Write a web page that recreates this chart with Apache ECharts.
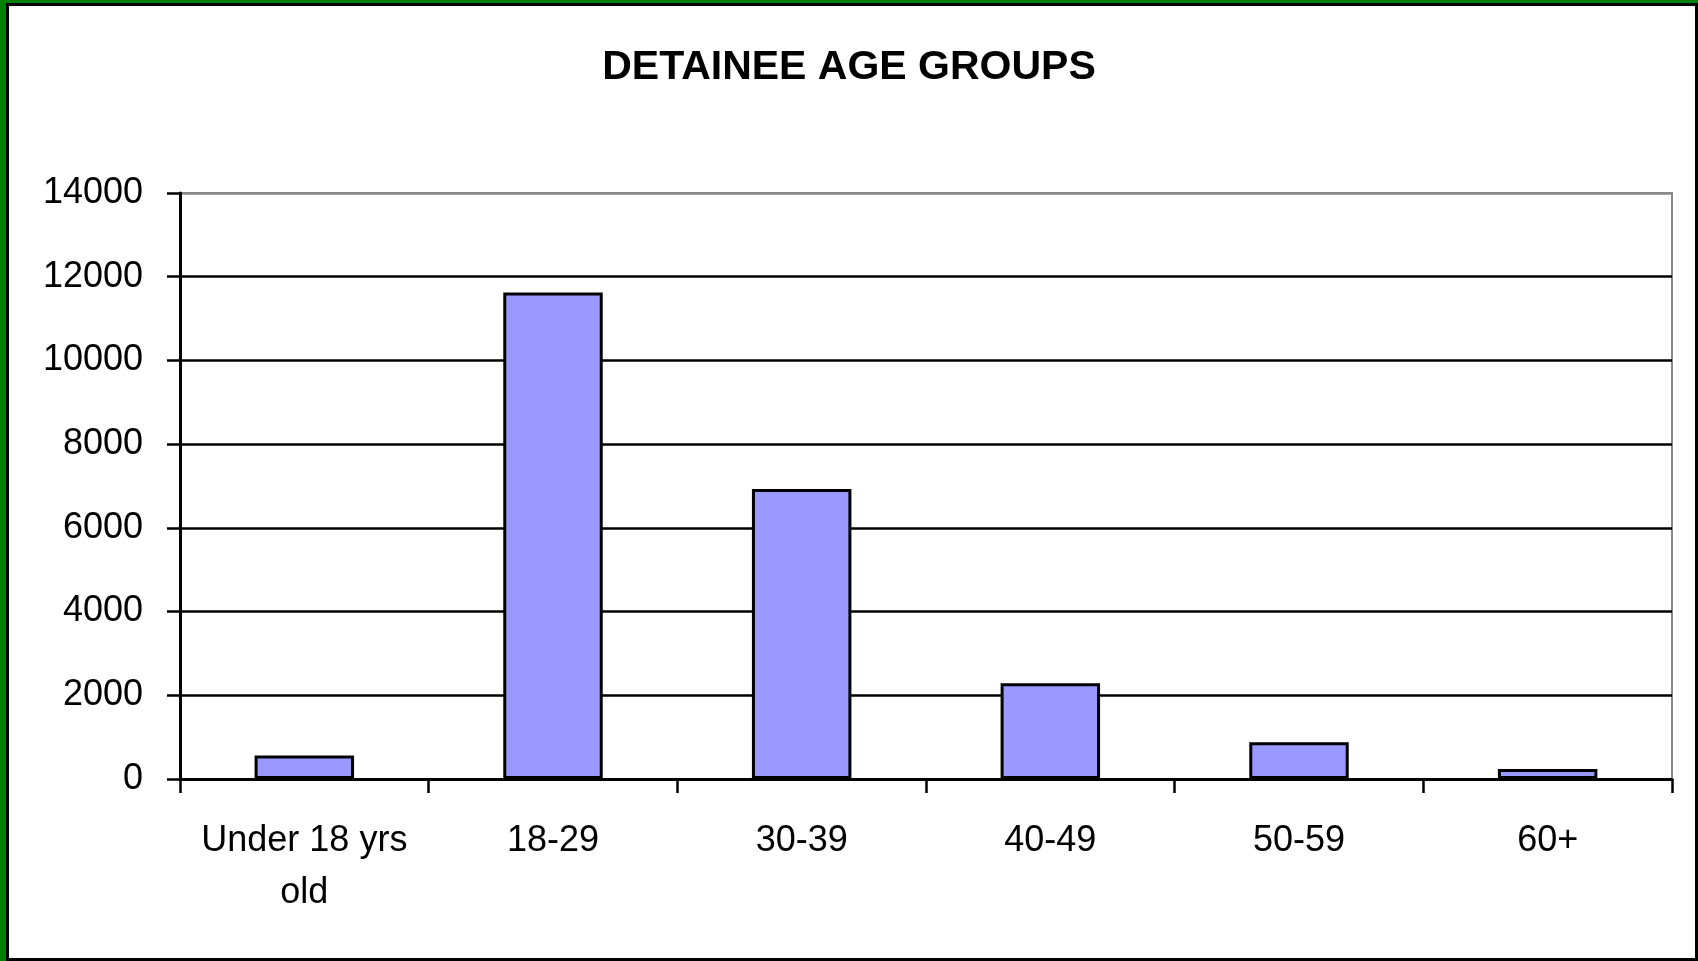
<!DOCTYPE html>
<html>
<head>
<meta charset="utf-8">
<script src="https://cdn.jsdelivr.net/npm/echarts@6/dist/echarts.min.js"></script>
<style>
html,body{margin:0;padding:0;background:#fff;}
#chart{position:absolute;left:0;top:0;width:1698px;height:961px;}
#frame{position:absolute;left:0;top:0;width:1698px;height:961px;box-sizing:border-box;border-left:6px solid #008000;border-top:3px solid #008000;pointer-events:none;}
#frame2{position:absolute;left:0;top:0;right:0;bottom:0;border:3px solid #000;}
</style>
</head>
<body>
<div id="chart"></div>
<div id="frame"><div id="frame2"></div></div>
<script>
const titleText = 'DETAINEE AGE GROUPS';
const categories = ['Under 18 yrs\nold', '18-29', '30-39', '40-49', '50-59', '60+'];
const detainees = [560, 11620, 6930, 2290, 880, 240];
const yMin = 0, yMax = 14000, yStep = 2000;

const chart = echarts.init(document.getElementById('chart'));
const font = '"Liberation Sans", Arial, sans-serif';
chart.setOption({
  animation: false,
  backgroundColor: '#fff',
  title: {
    text: titleText,
    left: 'center',
    top: 42,
    textStyle: { fontFamily: font, fontSize: 41, fontWeight: 'bold', color: '#000' }
  },
  grid: { left: 180, right: 26, top: 193, bottom: 182, show: true, borderColor: '#888', borderWidth: 2, backgroundColor: 'transparent' },
  xAxis: {
    type: 'category',
    data: categories,
    boundaryGap: true,
    axisLine: { show: true, lineStyle: { color: '#000', width: 3 } },
    axisTick: { show: true, length: 14, lineStyle: { color: '#000', width: 2.5 } },
    axisLabel: { color: '#000', fontFamily: font, fontSize: 36, lineHeight: 52, margin: 36, interval: 0 }
  },
  yAxis: {
    type: 'value',
    min: yMin, max: yMax, interval: yStep,
    axisLine: { show: true, lineStyle: { color: '#000', width: 3 } },
    axisTick: { show: true, length: 13, lineStyle: { color: '#000', width: 2.5 } },
    axisLabel: { color: '#000', fontFamily: font, fontSize: 36, margin: 37, formatter: v => String(v) },
    splitLine: { show: true, lineStyle: { color: ['#000','#000','#000','#000','#000','#000','#000','#888'], width: 2.5 } }
  },
  series: [{
    type: 'bar',
    data: detainees,
    barWidth: '40%',
    itemStyle: { color: '#9999FF', borderColor: '#000', borderWidth: 3 }
  }]
});
</script>
</body>
</html>
